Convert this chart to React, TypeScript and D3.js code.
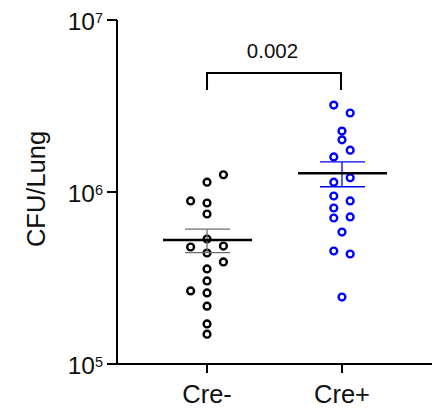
import React from 'react';
import * as d3 from 'd3';

// groups and CFU per lung
const groups = ['Cre-', 'Cre+'];
const creMinus = [1.26e6, 1.14e6, 8.87e5, 8.63e5, 7.45e5, 5.33e5, 4.79e5, 4.85e5, 4.42e5, 3.92e5, 3.57e5, 3.04e5, 2.66e5, 2.59e5, 2.17e5, 1.71e5, 1.49e5];
const creMinusLane = [2, 0, -2, 0, 0, 0, -2, 2, 0, 2, 0, 0, -2, 0, 0, 0, 0];
const crePlus = [3.2e6, 2.88e6, 2.26e6, 2.01e6, 1.75e6, 1.6e6, 1.21e6, 1.14e6, 9.48e5, 8.87e5, 8.07e5, 7.06e5, 7.16e5, 5.85e5, 4.54e5, 4.36e5, 2.45e5];
const crePlusLane = [-1, 1, 0, 0, 1, -1, 1, -1, -1, 1, -1, -1, 1, 0, -1, 1, 0];
const yTicks = [1e5, 1e6, 1e7];
const pLabel = '0.002';

const font = 'Liberation Sans, Arial, sans-serif';

const App = () => {
  const width = 436;
  const height = 411;
  const left = 117;
  const right = 432;
  const top = 20;
  const bottom = 364;

  const y = d3.scaleLog().domain([1e5, 1e7]).range([bottom, top]);
  const x = d3.scalePoint().domain(groups).range([left, right]).padding(0.667);
  const laneW = 8.2;

  const series = [
    { name: 'Cre-', values: creMinus, lanes: creMinusLane, color: '#000000', semColor: '#6e6e6e' },
    { name: 'Cre+', values: crePlus, lanes: crePlusLane, color: '#0000ff', semColor: '#0000ff' },
  ];

  const bracketY = 73;

  return (
    <svg width={width} height={height} style={{ position: 'absolute', left: 0, top: 0, background: '#fff' }}>
      {/* y axis */}
      <line x1={left} x2={left} y1={top} y2={bottom} stroke="#000" strokeWidth={2} />
      {yTicks.map(t => {
        const exp = Math.round(Math.log10(t));
        return (
          <g key={t}>
            <line x1={left - 10} x2={left} y1={y(t)} y2={y(t)} stroke="#000" strokeWidth={2} />
            <text x={left - 14} y={y(t) + 9.5} textAnchor="end" fontFamily={font} fontSize={24.5} fill="#111">
              10<tspan fontSize={14.5} dy={-7}>{exp}</tspan>
            </text>
          </g>
        );
      })}
      <text transform={`translate(45,189) rotate(-90)`} textAnchor="middle"
        fontFamily={font} fontSize={25.5} fill="#111">CFU/Lung</text>

      {/* x axis */}
      <line x1={left - 1} x2={right} y1={bottom} y2={bottom} stroke="#000" strokeWidth={2} />
      {groups.map(g => (
        <g key={g}>
          <line x1={x(g)} x2={x(g)} y1={bottom} y2={bottom + 9} stroke="#000" strokeWidth={2} />
          <text x={x(g)} y={bottom + 39} textAnchor="middle" fontFamily={font} fontSize={25.5} fill="#111">{g}</text>
        </g>
      ))}

      {/* points and mean +/- SEM */}
      {series.map(s => {
        const cx = x(s.name)!;
        const mean = d3.mean(s.values)!;
        const sem = d3.deviation(s.values)! / Math.sqrt(s.values.length);
        return (
          <g key={s.name}>
            {s.values.map((v, i) => (
              <circle key={i} cx={cx + s.lanes[i] * laneW} cy={y(v)} r={3.4}
                fill="none" stroke={s.color} strokeWidth={2.4} />
            ))}
            <line x1={cx} x2={cx} y1={y(mean + sem)} y2={y(mean - sem)} stroke={s.semColor} strokeWidth={1.3} />
            <line x1={cx - 22} x2={cx + 23} y1={y(mean + sem)} y2={y(mean + sem)} stroke={s.semColor} strokeWidth={1.3} />
            <line x1={cx - 22} x2={cx + 23} y1={y(mean - sem)} y2={y(mean - sem)} stroke={s.semColor} strokeWidth={1.3} />
            <line x1={cx - 44} x2={cx + 45} y1={y(mean)} y2={y(mean)} stroke="#000" strokeWidth={2.5} />
          </g>
        );
      })}

      {/* significance bracket */}
      <path d={`M${x('Cre-')},${bracketY + 17}V${bracketY}H${x('Cre+')! - 1}V${bracketY + 17}`}
        fill="none" stroke="#000" strokeWidth={2} />
      <text x={(x('Cre-')! + x('Cre+')!) / 2 - 2} y={bracketY - 15} textAnchor="middle"
        fontFamily={font} fontSize={20.5} fill="#111">{pLabel}</text>
    </svg>
  );
};

export default App;
